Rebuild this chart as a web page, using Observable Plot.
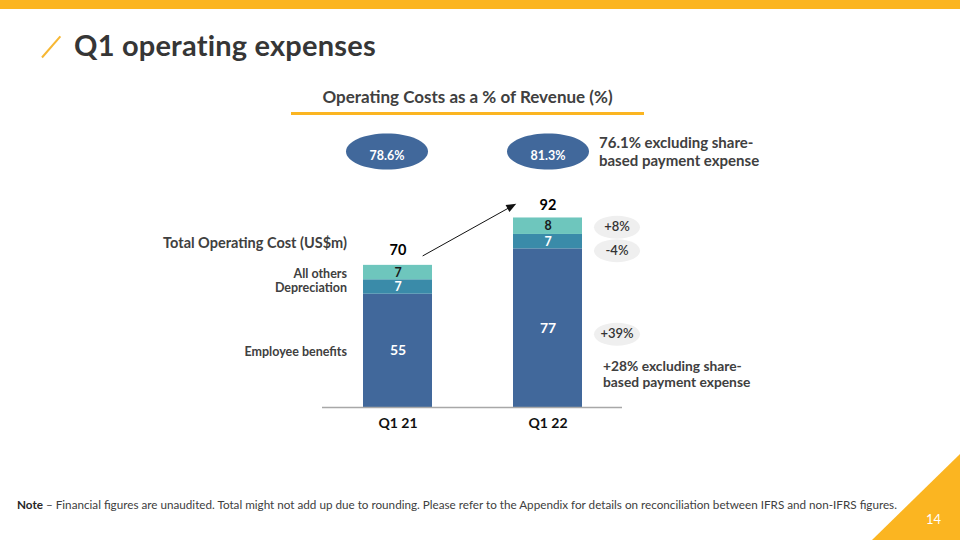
<!DOCTYPE html>
<html>
<head>
<meta charset="utf-8">
<script src="https://cdn.jsdelivr.net/npm/d3@7"></script>
<script src="https://cdn.jsdelivr.net/npm/@observablehq/plot@0.6"></script>
<style>
  body { margin: 0; background: #fff; }
  #page { position: relative; width: 960px; height: 540px; overflow: hidden; background: #fff; font-family: Lato, "Open Sans", sans-serif; }
  #chart { position: absolute; left: 0; top: 0; }
  #chart svg { overflow: visible; }
  #chart g[aria-label="x-axis tick label"] text { font-weight: bold; }
  .topbar { position: absolute; left: 0; top: 0; width: 960px; height: 9px; background: #FBB521; }
  .slash { position: absolute; left: 37px; top: 46px; width: 28px; height: 1.5px; background: #F7B733; transform: rotate(-49deg); }
  .title { position: absolute; left: 74px; top: 27px; font-size: 29px; font-weight: 700; color: #363636; white-space: nowrap; letter-spacing: 0.2px; }
  .subtitle { position: absolute; left: 291px; width: 353px; top: 86px; text-align: center; font-size: 17px; font-weight: 700; color: #404040; white-space: nowrap; }
  .underline { position: absolute; left: 291px; top: 112px; width: 353px; height: 3px; background: #FBB521; }
  .note { position: absolute; left: 17px; top: 497px; font-size: 11.7px; color: #404040; white-space: nowrap; }
  .note b { color: #262626; }
  .corner { position: absolute; right: 0; bottom: 0; width: 88px; height: 86px; background: #FBB521; clip-path: polygon(100% 0, 100% 100%, 0 100%); }
  .pagenum { position: absolute; left: 926px; top: 511px; font-size: 13px; color: #fff; }
</style>
</head>
<body>
<div id="page">
  <div id="chart"></div>
  <div class="topbar"></div>
  <div class="slash"></div>
  <div class="title">Q1 operating expenses</div>
  <div class="subtitle">Operating Costs as a % of Revenue (%)</div>
  <div class="underline"></div>
  <div class="note"><b>Note</b> – Financial figures are unaudited. Total might not add up due to rounding. Please refer to the Appendix for details on reconciliation between IFRS and non-IFRS figures.</div>
  <div class="corner"></div>
  <div class="pagenum">14</div>
</div>
<script>
// ---- data ----
const categories = ["Q1 21", "Q1 22"];
const seriesNames = ["Employee benefits", "Depreciation", "All others"];
const employeeBenefits = [55, 77];
const depreciation = [7, 7];
const allOthers = [7, 8];
const totals = [70, 92];
const costRatios = ["78.6%", "81.3%"];
const yoyChanges = ["+39%", "-4%", "+8%"]; // Employee benefits, Depreciation, All others
const ratioNote = "76.1% excluding share-\nbased payment expense";
const employeeNote = "+28% excluding share-\nbased payment expense";
const totalLabel = "Total Operating Cost (US$m)";
const seriesColors = ["#41689B", "#3A8BA9", "#6EC6BD"];
// arrow annotation (data units along the growth line)
const growthArrow = [{from: "Q1 21", fromY: 66.9, to: "Q1 22", toY: 107.5}];

// ---- derived table ----
const seriesValues = [employeeBenefits, depreciation, allOthers];
const rows = [];
categories.forEach((q, i) => {
  let acc = 0;
  seriesValues.forEach((arr, j) => {
    const lo = acc, hi = acc + arr[i];
    acc = hi;
    rows.push({quarter: q, series: seriesNames[j], value: arr[i], lo, hi, mid: (lo + hi) / 2, change: yoyChanges[j]});
  });
});
const totalRows = categories.map((q, i) => ({quarter: q, total: totals[i], ratio: costRatios[i]}));
const q21 = rows.filter(d => d.quarter === "Q1 21");
const q22 = rows.filter(d => d.quarter === "Q1 22");

function ellipse(rx, ry) {
  const k = 0.5523;
  return {draw(c) {
    c.moveTo(rx, 0);
    c.bezierCurveTo(rx, ry * k, rx * k, ry, 0, ry);
    c.bezierCurveTo(-rx * k, ry, -rx, ry * k, -rx, 0);
    c.bezierCurveTo(-rx, -ry * k, -rx * k, -ry, 0, -ry);
    c.bezierCurveTo(rx * k, -ry, rx, -ry * k, rx, 0);
    c.closePath();
  }};
}
const arrowTip = {draw(c) {
  // filled triangle pointing up, tip at (0,-6)
  c.moveTo(0, -6); c.lineTo(4, 4); c.lineTo(-4, 4); c.closePath();
}};

const ratioDx = [-11, 0];
const pillDy = [6, 9, 1];
const marks = [];

// ratio ellipses
totalRows.forEach((d, i) => {
  marks.push(Plot.dot([d], {x: "quarter", frameAnchor: "top", dy: -50, dx: ratioDx[i], symbol: ellipse(41, 18), fill: "#41689B"}));
  marks.push(Plot.text([d], {x: "quarter", frameAnchor: "top", dy: -50, dx: ratioDx[i], text: "ratio", fill: "#fff", fontSize: 12.5, fontWeight: "bold"}));
});
marks.push(Plot.text([ratioNote], {x: () => "Q1 22", frameAnchor: "top", dy: -50, dx: 51, text: d => d, textAnchor: "start", lineAnchor: "middle", lineHeight: 1.2, fontSize: 15, fontWeight: "bold", fill: "#404040"}));

// bars
marks.push(Plot.barY(rows, {x: "quarter", y1: "lo", y2: "hi", fill: "series"}));
marks.push(Plot.ruleY([0], {stroke: "#a8a8a8", strokeWidth: 1.5}));
marks.push(Plot.axisX({tickSize: 0, tickPadding: 11, fontSize: 14, fontWeight: "bold", fill: "#111", label: null}));

// segment labels
marks.push(Plot.text(rows.filter(d => d.series === "Employee benefits"), {x: "quarter", y: "mid", text: "value", fill: "#fff", fontSize: 14, fontWeight: "bold"}));
marks.push(Plot.text(rows.filter(d => d.series === "Depreciation"), {x: "quarter", y: "mid", text: "value", fill: "#fff", fontSize: 12.5, fontWeight: "bold"}));
marks.push(Plot.text(rows.filter(d => d.series === "All others"), {x: "quarter", y: "mid", text: "value", fill: "#1a1a1a", fontSize: 12.5, fontWeight: "bold"}));

// totals
marks.push(Plot.text(totalRows, {x: "quarter", y: "total", dy: -13, text: d => String(d.total), fill: "#000", fontSize: 14.5, fontWeight: "bold"}));

// left series labels
marks.push(Plot.text(q21, {x: "quarter", y: "mid", dx: -51, dy: 1, text: "series", textAnchor: "end", fontSize: 12.5, fontWeight: "bold", fill: "#404040"}));
marks.push(Plot.text([totalRows[0]], {x: "quarter", y: "total", dx: -51, dy: -20, text: () => totalLabel, textAnchor: "end", fontSize: 14.5, fontWeight: "bold", fill: "#404040"}));

// change pills
q22.forEach((d, j) => {
  marks.push(Plot.dot([d], {x: "quarter", y: "mid", dx: 69, dy: pillDy[j], symbol: ellipse(23, 11.5), fill: "#EFEFEF"}));
  marks.push(Plot.text([d], {x: "quarter", y: "mid", dx: 69, dy: pillDy[j], text: "change", fill: "#333", fontSize: 13, fontWeight: 600}));
});
marks.push(Plot.text([employeeNote], {x: () => "Q1 22", y: () => 0, dx: 55, dy: -34, text: d => d, textAnchor: "start", lineAnchor: "middle", lineHeight: 1.15, fontSize: 13.8, fontWeight: "bold", fill: "#404040"}));

// growth arrow (line + filled head)
marks.push(Plot.arrow(growthArrow, {x1: "from", y1: "fromY", x2: "to", y2: "toY", insetStart: 28.6, insetEnd: 42, stroke: "#111", strokeWidth: 1, headLength: 0}));
marks.push(Plot.dot(growthArrow, {x: "to", y: "toY", dx: -37, dy: 20.5, symbol: arrowTip, rotate: 61, fill: "#111", stroke: "none"}));

const chart = Plot.plot({
  width: 960,
  height: 540,
  marginLeft: 322,
  marginRight: 338,
  marginTop: 201,
  marginBottom: 133,
  style: {background: "none", fontFamily: "Lato, 'Open Sans', sans-serif", overflow: "visible"},
  x: {domain: categories, paddingInner: 0.54, paddingOuter: 0.27, axis: null},
  y: {domain: [0, 100], axis: null},
  color: {domain: seriesNames, range: seriesColors},
  marks
});
document.getElementById("chart").appendChild(chart);
</script>
</body>
</html>
